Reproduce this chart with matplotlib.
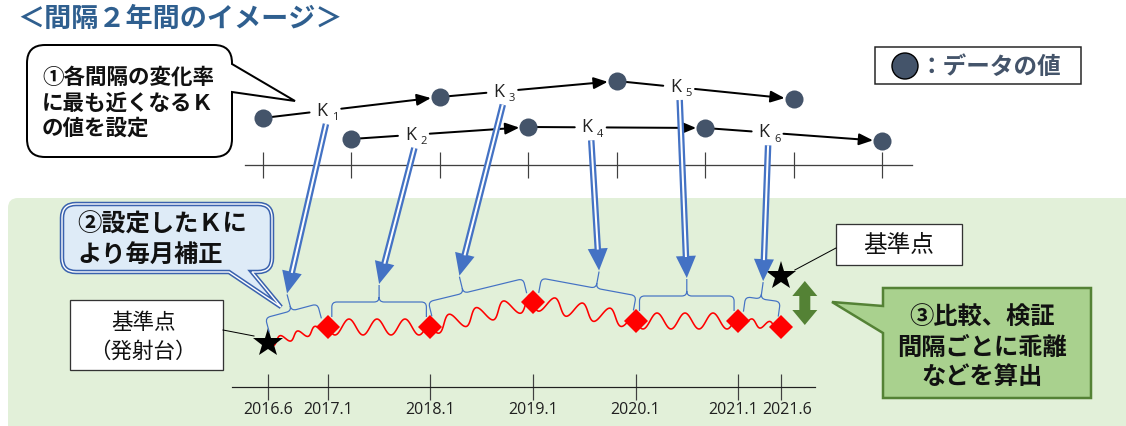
import numpy as np
import matplotlib.pyplot as plt
from matplotlib.patches import FancyBboxPatch, Rectangle, Polygon, PathPatch, Circle
from matplotlib.path import Path

plt.rcParams['font.family'] = ['Noto Sans CJK JP', 'DejaVu Sans']
LATIN = ['Open Sans', 'DejaVu Sans']

# ---------------------------------------------------------------
# data
# ---------------------------------------------------------------

# upper row: values on every other half-year tick
upper_tick = [0, 2, 4, 6]
upper_val = [67, 88, 104, 86]

# lower row, shifted by one tick
lower_tick = [1, 3, 5, 7]
lower_val = [46, 58, 57, 44]

n_top_ticks = 8

# corrected monthly series (first point = 基準点 / 発射台)
dates = ["2016.6", "2017.1", "2018.1", "2019.1", "2020.1", "2021.1", "2021.6"]
corr_val = [4.4, 6.0, 6.0, 8.5, 6.6, 6.6, 6.0]
end_ref_val = 11.1

# where each K arrow lands on its brace (share of the interval)
tip_frac = [0.5, 0.5, 0.38, 0.57, 0.5, 0.45]

# small sideways nudge (px) for date labels that sit close together
label_nudge = [0, 0, 0, 0, 0, -5, 6]

BLUE = '#4472C4'
SLATE = '#44546A'
RED = '#FF0000'
PT = 0.72   # points per pixel at 100 dpi

W, H = 1126, 426
fig = plt.figure(figsize=(W / 100, H / 100), dpi=100)


def px_axes(x0, y0, x1, y1, z):
    a = fig.add_axes([x0 / W, 1 - y1 / H, (x1 - x0) / W, (y1 - y0) / H], zorder=z)
    a.patch.set_alpha(0)
    return a


bg = px_axes(0, 0, W, H, 0)
fg = px_axes(0, 0, W, H, 3)
for a in (bg, fg):
    a.set_xlim(0, W)
    a.set_ylim(H, 0)
    a.axis('off')


def to_px(ax, x, y):
    d = ax.transData.transform((x, y))
    return fg.transData.inverted().transform(d)


# ---------------------------------------------------------------
# upper panel: yearly values and K
# ---------------------------------------------------------------

ax_top = px_axes(245, 40, 912, 185, 1)
ax_top.set_xlim(-18 / 88.43, 649 / 88.43)
ax_top.set_ylim(0, 145)
for s in ['top', 'left', 'right']:
    ax_top.spines[s].set_visible(False)
ax_top.spines['bottom'].set_position(('data', 20))
ax_top.spines['bottom'].set_color('#404040')
ax_top.spines['bottom'].set_linewidth(1.3 * PT)
ax_top.set_xticks(np.arange(n_top_ticks))
ax_top.set_yticks([])
ax_top.tick_params(axis='x', direction='inout', length=26 * PT, width=1.2 * PT,
                   colors='#404040', labelbottom=False)

k_pos = {}
for row, (ticks, vals) in enumerate([(upper_tick, upper_val), (lower_tick, lower_val)]):
    for j in range(len(ticks) - 1):
        a = np.array([ticks[j], vals[j]], float)
        b = np.array([ticks[j + 1], vals[j + 1]], float)
        k = a + (b - a) / 3
        n = 2 * j + row + 1
        k_pos[n] = k
        ax_top.annotate('', xy=k, xytext=a,
                        arrowprops=dict(arrowstyle='-', color='black', lw=2 * PT,
                                        shrinkA=0, shrinkB=9))
        ax_top.annotate('', xy=b, xytext=k,
                        arrowprops=dict(arrowstyle='-|>,head_length=0.6,head_width=0.25',
                                        mutation_scale=14, color='black', lw=2 * PT,
                                        shrinkA=14, shrinkB=6.5))
        ax_top.text(k[0], k[1], 'K', ha='center', va='center', fontsize=13,
                    family=LATIN, color='#222222')
        ax_top.annotate(str(n), xy=k, xytext=(9.5, -5), textcoords='offset points',
                        ha='center', va='center', fontsize=8, family=LATIN, color='#222222')
    ax_top.plot(ticks, vals, 'o', ms=13, color=SLATE, mew=0, zorder=5, clip_on=False)

# ---------------------------------------------------------------
# lower panel: monthly corrected series
# ---------------------------------------------------------------

months = np.array([int(d.split('.')[0]) * 12 + int(d.split('.')[1]) for d in dates])
mrel = months - months[0]

ax_bot = px_axes(232, 230, 815, 420, 1)
ax_bot.set_xlim(-4.21, 64.0)
ax_bot.set_ylim(-3.3, 15.7)
for s in ['top', 'left', 'right']:
    ax_bot.spines[s].set_visible(False)
ax_bot.spines['bottom'].set_position(('data', 0))
ax_bot.spines['bottom'].set_color('#202020')
ax_bot.spines['bottom'].set_linewidth(1.2 * PT)
ax_bot.set_yticks([])
ax_bot.set_xticks(mrel)
ax_bot.tick_params(axis='x', direction='inout', length=26 * PT, width=1.2 * PT,
                   colors='#404040', labelbottom=False)

# date labels drawn under each tick
for m, lab, dx in zip(mrel, dates, label_nudge):
    ax_bot.annotate(lab, xy=(m, 0), xytext=(dx * PT, -23 * PT), textcoords='offset points',
                    ha='center', va='center', fontsize=11.5, family=LATIN,
                    color='#202020', annotation_clip=False)

for i in range(len(mrel) - 1):
    full = (mrel[i + 1] - mrel[i]) >= 12
    ln, = ax_bot.plot(mrel[i:i + 2], corr_val[i:i + 2], color=RED, lw=1.6 * PT,
                      clip_on=False, zorder=2)
    if full:
        ln.set_sketch_params(8, 28, 1)
    else:
        ln.set_sketch_params(4, 18, 1)

ax_bot.plot(mrel[1:], corr_val[1:], 'D', ms=12.5, color=RED, mew=0, zorder=4, clip_on=False)
ax_bot.plot(mrel[0], corr_val[0], '*', ms=22, color='black', mew=0, zorder=4, clip_on=False)
ax_bot.plot(mrel[-1], end_ref_val, '*', ms=22, color='black', mew=0, zorder=4, clip_on=False)

# ---------------------------------------------------------------
# background, callouts and boxes
# ---------------------------------------------------------------

bg.add_patch(FancyBboxPatch((8, 198), 1130, 240, boxstyle='round,pad=0,rounding_size=10',
                            fc='#E2F0D9', ec='none'))


def callout_path(x0, y0, x1, y1, r, side=None, tail=()):
    verts, codes = [], []

    def go(p, c=Path.LINETO):
        verts.append(p)
        codes.append(c)

    def add_tail(s):
        if side == s:
            for p in tail:
                go(p)

    go((x0 + r, y0), Path.MOVETO)
    add_tail('top')
    go((x1 - r, y0)); go((x1, y0), Path.CURVE3); go((x1, y0 + r), Path.CURVE3)
    add_tail('right')
    go((x1, y1 - r)); go((x1, y1), Path.CURVE3); go((x1 - r, y1), Path.CURVE3)
    add_tail('bottom')
    go((x0 + r, y1)); go((x0, y1), Path.CURVE3); go((x0, y1 - r), Path.CURVE3)
    add_tail('left')
    go((x0, y0 + r)); go((x0, y0), Path.CURVE3); go((x0 + r, y0), Path.CURVE3)
    go((x0 + r, y0), Path.CLOSEPOLY)
    return Path(verts, codes)


# ① callout
p1 = callout_path(27, 45, 232, 157, 18, 'right', [(232, 64), (295, 101), (232, 92)])
bg.add_patch(PathPatch(p1, fc='white', ec='black', lw=2 * PT, joinstyle='miter'))
for yy, s in zip([77, 103, 128], ['①各間隔の変化率', 'に最も近くなるＫ', 'の値を設定']):
    bg.text(42, yy, s, fontsize=15.5, fontweight='bold', va='center', color='#111111')

# ② callout (double border)
p2 = callout_path(62, 204, 272, 272, 14, 'bottom', [(252, 272), (281, 307), (229, 272)])
bg.add_patch(PathPatch(p2, fc='#DEEBF7', ec='#3A62AE', lw=4.5 * PT))
bg.add_patch(PathPatch(p2, fc='none', ec='white', lw=1.4 * PT))
for yy, s in zip([225, 255], ['②設定したＫに', 'より毎月補正']):
    bg.text(77, yy, s, fontsize=17.5, fontweight='bold', va='center', color='#111111')

# ③ callout
p3 = callout_path(883, 288, 1091, 398, 0, 'left', [(883, 333), (832, 302), (883, 306)])
bg.add_patch(PathPatch(p3, fc='#A9D18E', ec='#548235', lw=2.5 * PT))
for yy, s in zip([318, 348, 377], ['③比較、検証', '間隔ごとに乖離', 'などを算出']):
    bg.text(982, yy, s, fontsize=17.5, fontweight='bold', ha='center', va='center',
            color='#111111')

# 基準点 boxes
bg.add_patch(Rectangle((70, 300), 153, 70, fc='white', ec='#333333', lw=1.3 * PT))
bg.text(143, 323, '基準点', fontsize=15.5, ha='center', va='center', color='#111111')
bg.text(143, 352, '（発射台）', fontsize=15.5, ha='center', va='center', color='#111111')

bg.add_patch(Rectangle((836, 224), 126, 41, fc='white', ec='#333333', lw=1.3 * PT))
bg.text(899, 245, '基準点', fontsize=17, ha='center', va='center', color='#111111')

s0 = to_px(ax_bot, mrel[0], corr_val[0])
s1 = to_px(ax_bot, mrel[-1], end_ref_val)
bg.plot([223, s0[0] - 14], [330, s0[1] - 7], color='black', lw=1 * PT)
bg.plot([836, s1[0] + 14], [248, s1[1] - 6], color='black', lw=1 * PT)

# legend
bg.add_patch(Rectangle((875, 47), 206, 37, fc='white', ec='#222222', lw=1.5 * PT))
bg.add_patch(Circle((905, 66), 13, fc=SLATE, ec='black', lw=1))
bg.text(919, 67, '：データの値', fontsize=17, fontweight='bold', color=SLATE, va='center')

# title
bg.text(17, 19, '＜間隔２年間のイメージ＞', fontsize=19.5, fontweight='bold',
        color='#2F5F8F', va='center')

# ---------------------------------------------------------------
# braces over each interval and K arrows
# ---------------------------------------------------------------


def brace(p0, p1, frac, lift=25, foot=10, inset=4, r=5, tip=17):
    p0, p1 = np.asarray(p0), np.asarray(p1)
    L = np.hypot(*(p1 - p0))
    u = (p1 - p0) / L
    nrm = np.array([u[1], -u[0]])

    def loc(s, t):
        return tuple(p0 + u * s + nrm * t)

    st = frac * L
    M, LN, C3 = Path.MOVETO, Path.LINETO, Path.CURVE3
    verts = [loc(inset, foot), loc(inset, lift - r), loc(inset, lift), loc(inset + r, lift),
             loc(st - r, lift), loc(st, lift), loc(st, lift + r), loc(st, lift + tip),
             loc(st, lift + r), loc(st, lift), loc(st + r, lift),
             loc(L - inset - r, lift), loc(L - inset, lift), loc(L - inset, lift - r),
             loc(L - inset, foot)]
    codes = [M, LN, C3, C3, LN, C3, C3, LN, M, C3, C3, LN, C3, C3, LN]
    fg.add_patch(PathPatch(Path(verts, codes), fc='none', ec=BLUE, lw=1.2 * PT))
    return np.array(loc(st, lift + tip))


def blue_arrow(start, end, head_len=22, head_w=20, shaft=6.5):
    start, end = np.asarray(start), np.asarray(end)
    d = end - start
    u = d / np.hypot(*d)
    nrm = np.array([-u[1], u[0]])
    base = end - u * head_len
    fg.plot([start[0], base[0] + u[0]], [start[1], base[1] + u[1]], color=BLUE,
            lw=shaft * PT, solid_capstyle='butt')
    fg.plot([start[0], base[0] + u[0]], [start[1], base[1] + u[1]], color='white',
            lw=2 * PT, solid_capstyle='butt')
    fg.add_patch(Polygon([end, base + nrm * head_w / 2, base - nrm * head_w / 2],
                         closed=True, fc=BLUE, ec='none'))


pts = [to_px(ax_bot, mrel[i], corr_val[i]) for i in range(len(mrel))]
tips = [brace(pts[i], pts[i + 1], tip_frac[i]) for i in range(len(pts) - 1)]

for n, k in k_pos.items():
    kp = to_px(ax_top, k[0], k[1])
    blue_arrow(kp + np.array([4, 13]), tips[n - 1] + np.array([0, -1]))

# deviation arrow between end point and 基準点
xa = s1[0] + 24
ya, yb = s1[1] + 5, pts[-1][1] - 2
hw, sw, hl = 12.5, 5.5, 15
fg.add_patch(Polygon([(xa, ya), (xa + hw, ya + hl), (xa + sw, ya + hl), (xa + sw, yb - hl),
                      (xa + hw, yb - hl), (xa, yb), (xa - hw, yb - hl), (xa - sw, yb - hl),
                      (xa - sw, ya + hl), (xa - hw, ya + hl)], closed=True,
                     fc='#548235', ec='none'))

fig.savefig('out.png', dpi=100)
